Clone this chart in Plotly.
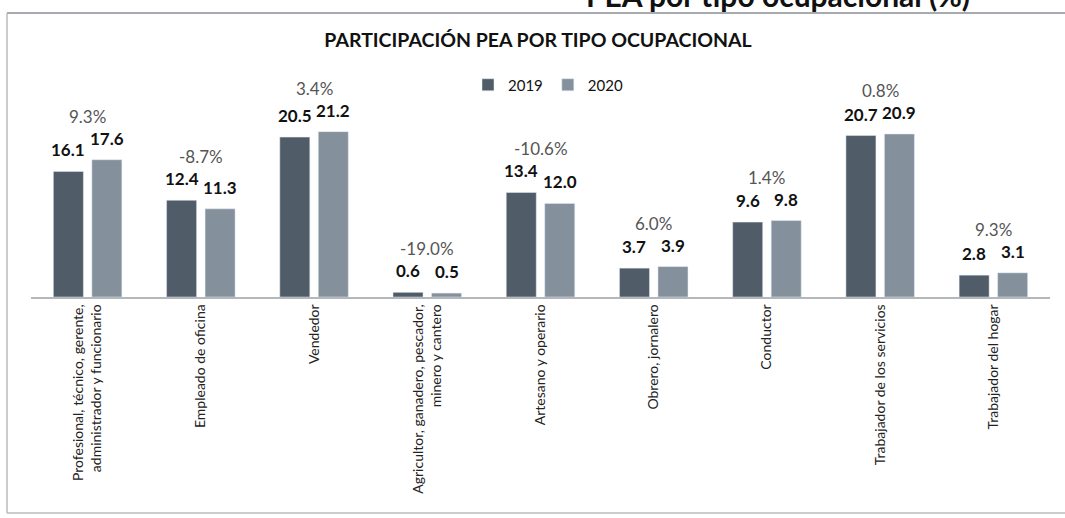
import plotly.graph_objects as go

categories = [
    "Profesional, técnico, gerente,<br>administrador y funcionario",
    "Empleado de oficina",
    "Vendedor",
    "Agricultor, ganadero, pescador,<br>minero y cantero",
    "Artesano y operario",
    "Obrero, jornalero",
    "Conductor",
    "Trabajador de los servicios",
    "Trabajador del hogar",
]
v2019 = [16.1, 12.4, 20.5, 0.6, 13.4, 3.7, 9.6, 20.7, 2.8]
v2020 = [17.6, 11.3, 21.2, 0.5, 12.0, 3.9, 9.8, 20.9, 3.1]
variation = ["9.3%", "-8.7%", "3.4%", "-19.0%", "-10.6%", "6.0%", "1.4%", "0.8%", "9.3%"]

C2019 = "#505c67"
C2020 = "#84919d"
FONT = "Lato"

# plot area in pixels
W, H = 1065, 518
L, R, T, B = 31, 15, 100, 221
PW, PH = W - L - R, H - T - B

def px_x(x):
    return (x - L) / PW

def px_y(y):
    return (H - B - y) / PH

BARGAP = 0.32
BARGROUPGAP = 0.22
off = (1 - BARGAP) / 4

fig = go.Figure()
fig.add_trace(go.Bar(name="2019", x=categories, y=v2019, marker_color=C2019))
fig.add_trace(go.Bar(name="2020", x=categories, y=v2020, marker_color=C2020))

ann = []
for i, (a, b, p) in enumerate(zip(v2019, v2020, variation)):
    ann.append(dict(x=i - off, y=a, xref="x", yref="y", text=f"{a:.1f}", showarrow=False,
                    yanchor="bottom", yshift=9, font=dict(family=FONT, size=17, color="#111111", weight="bold")))
    ann.append(dict(x=i + off, y=b, xref="x", yref="y", text=f"{b:.1f}", showarrow=False,
                    yanchor="bottom", yshift=9, font=dict(family=FONT, size=17, color="#111111", weight="bold")))
    ann.append(dict(x=i, y=max(a, b), xref="x", yref="y", text=p, showarrow=False,
                    yanchor="bottom", yshift=31, font=dict(family=FONT, size=17, color="#555555")))

# cropped heading at the very top of the scan (only its lower part is visible)
ann.append(dict(x=px_x(972), y=px_y(15), xref="paper", yref="paper",
                text="PEA por tipo ocupacional (%)", showarrow=False,
                xanchor="right", yanchor="bottom",
                font=dict(family=FONT, size=30, color="#111111", weight="bold")))

shapes = [
    dict(type="line", xref="paper", yref="paper", x0=px_x(7), x1=px_x(1065), y0=px_y(13), y1=px_y(13),
         line=dict(color="#8a8f95", width=1.5)),
    dict(type="line", xref="paper", yref="paper", x0=px_x(7), x1=px_x(7), y0=px_y(13), y1=px_y(513),
         line=dict(color="#b8bcc0", width=1.5)),
    dict(type="line", xref="paper", yref="paper", x0=px_x(7), x1=px_x(1065), y0=px_y(513), y1=px_y(513),
         line=dict(color="#b8bcc0", width=1.5)),
]

fig.update_layout(
    width=W, height=H,
    margin=dict(l=L, r=R, t=T, b=B, autoexpand=False),
    paper_bgcolor="white", plot_bgcolor="white",
    barmode="group", bargap=BARGAP, bargroupgap=BARGROUPGAP,
    title=dict(text="<b>PARTICIPACIÓN PEA POR TIPO OCUPACIONAL</b>", x=538 / W, xanchor="center",
               y=1 - 40 / H, yanchor="middle", font=dict(family=FONT, size=19.5, color="#111111")),
    legend=dict(orientation="h", x=px_x(548), xanchor="center", y=px_y(85), yanchor="middle",
                font=dict(family=FONT, size=15, color="#111111"), itemwidth=30, traceorder="normal"),
    xaxis=dict(showline=True, linecolor="#b5b8bb", linewidth=1.5, ticks="", showgrid=False,
               tickangle=-90, tickfont=dict(family=FONT, size=14, color="#222222")),
    yaxis=dict(visible=False, range=[0, PH / 7.8]),
    annotations=ann,
    shapes=shapes,
    showlegend=True,
)

fig.write_html("out.html", config={"displayModeBar": False},
               post_script="document.body.style.margin='0px';")
